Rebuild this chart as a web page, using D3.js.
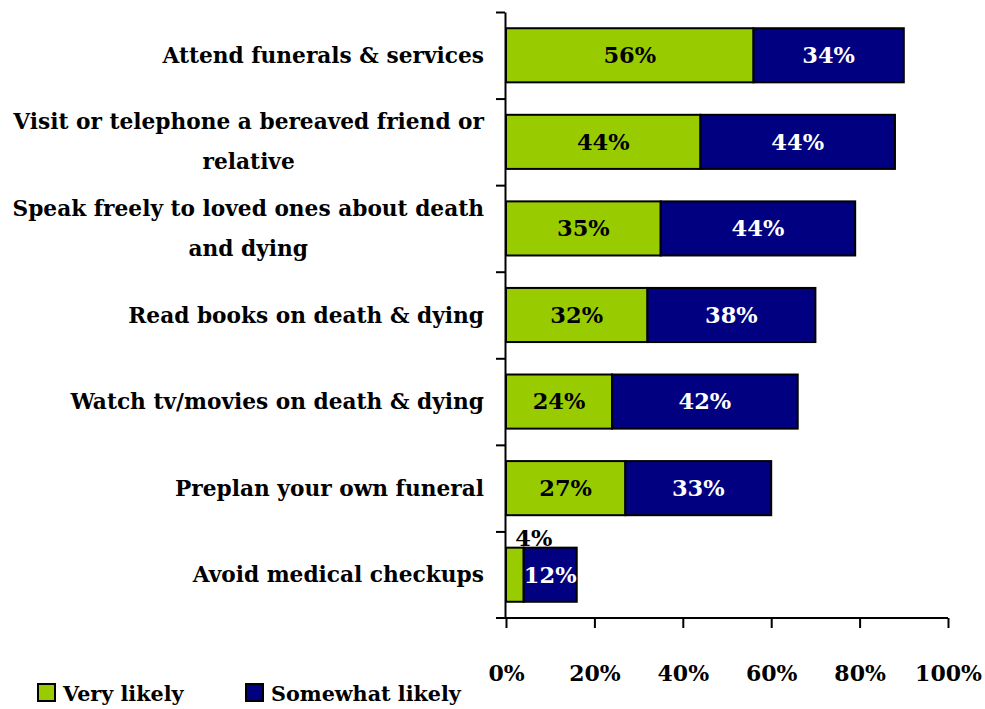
<!DOCTYPE html>
<html>
<head>
<meta charset="utf-8">
<script src="https://cdn.jsdelivr.net/npm/d3@7"></script>
<style>
  html, body { margin: 0; padding: 0; background: #fff; }
  svg { display: block; }
  text { font-family: "DejaVu Serif", "Liberation Serif", serif; font-weight: bold; }
</style>
</head>
<body>
<svg id="chart" width="985" height="709"></svg>
<script>
// Activities, top to bottom
const categories = [
  ["Attend funerals & services"],
  ["Visit or telephone a bereaved friend or", "relative"],
  ["Speak freely to loved ones about death", "and dying"],
  ["Read books on death & dying"],
  ["Watch tv/movies on death & dying"],
  ["Preplan your own funeral"],
  ["Avoid medical checkups"]
];
const veryLikely     = [56, 44, 35, 32, 24, 27, 4];
const somewhatLikely = [34, 44, 44, 38, 42, 33, 12];
const seriesNames = ["Very likely", "Somewhat likely"];
const seriesColors = ["#99CC00", "#000080"];
const labelColors = ["#000", "#fff"];
const xTicks = [0, 20, 40, 60, 80, 100];

const svg = d3.select("#chart");
const plotLeft = 506, plotRight = 948, plotTop = 12, plotBottom = 618;

const x = d3.scaleLinear().domain([0, 100]).range([plotLeft, plotRight]);
const keys = categories.map((c, i) => i);
const y = d3.scaleBand().domain(keys).range([plotTop, plotBottom])
  .paddingInner(0.375).paddingOuter(0.1875);
const yEdge = d3.scaleLinear().domain([0, categories.length]).range([plotTop, plotBottom]);

const rows = keys.map(i => ({ i, v: [veryLikely[i], somewhatLikely[i]] }));

// stacked segments with their value labels
rows.forEach(r => {
  let acc = 0;
  r.v.forEach((val, s) => {
    const x0 = acc, x1 = acc + val;
    acc = x1;
    svg.append("rect")
      .attr("x", x(x0)).attr("y", y(r.i))
      .attr("width", x(x1) - x(x0)).attr("height", y.bandwidth())
      .attr("fill", seriesColors[s])
      .attr("stroke", "#000").attr("stroke-width", 2);
    const cy = y(r.i) + y.bandwidth() / 2;
    const fits = (x(x1) - x(x0)) > 30;
    svg.append("text")
      .attr("x", fits ? (x(x0) + x(x1)) / 2 : (x(x0) + x(x1)) / 2 + 19)
      .attr("y", fits ? cy : y(r.i) - 10)
      .attr("dy", "0.35em")
      .attr("text-anchor", "middle")
      .attr("font-size", 22.5)
      .attr("fill", fits ? labelColors[s] : "#000")
      .text(val + "%");
  });
});

// vertical category axis with boundary ticks
const yAxis = svg.append("g")
  .attr("transform", `translate(${plotLeft - 1},0)`)
  .call(d3.axisLeft(yEdge).tickValues(d3.range(categories.length)).tickSize(9).tickSizeOuter(0).tickFormat(""));
yAxis.selectAll("path, line").attr("stroke", "#000").attr("stroke-width", 2);

// horizontal percent axis
const xAxis = svg.append("g")
  .attr("transform", `translate(0,${plotBottom})`)
  .call(d3.axisBottom(x).tickValues(xTicks).tickSize(10).tickSizeOuter(0).tickFormat(d => d + "%"));
xAxis.select(".domain").attr("d", `M${plotLeft - 10},0H${plotRight}`);
xAxis.selectAll("path, line").attr("stroke", "#000").attr("stroke-width", 2);
xAxis.selectAll("text")
  .attr("y", 0).attr("dy", 0)
  .attr("transform", "translate(0,63)")
  .attr("font-size", 22).attr("fill", "#000")
  .style("font-family", "\"DejaVu Serif\", serif").style("font-weight", "bold");

// category labels: lines centered on each other, block right-aligned
const labelRight = 484, lineGap = 40;
rows.forEach(r => {
  const lines = categories[r.i];
  const g = svg.append("g");
  const ts = lines.map(l => g.append("text").attr("font-size", 21.7).attr("fill", "#000").text(l));
  const maxW = d3.max(ts, t => t.node().getComputedTextLength());
  const cy = y(r.i) + y.bandwidth() / 2;
  const y0 = cy - (lines.length - 1) * lineGap / 2;
  ts.forEach((t, k) => t
    .attr("x", labelRight - maxW / 2)
    .attr("y", y0 + k * lineGap)
    .attr("dy", "0.35em")
    .attr("text-anchor", "middle"));
});

// legend
const legendItems = [{ x: 38 }, { x: 246 }];
legendItems.forEach((it, s) => {
  svg.append("rect")
    .attr("x", it.x).attr("y", 684).attr("width", 17).attr("height", 17)
    .attr("fill", seriesColors[s]).attr("stroke", "#000").attr("stroke-width", 2);
  svg.append("text")
    .attr("x", it.x + 25).attr("y", 701)
    .attr("font-size", 20.7).attr("fill", "#000")
    .text(seriesNames[s]);
});
</script>
</body>
</html>
